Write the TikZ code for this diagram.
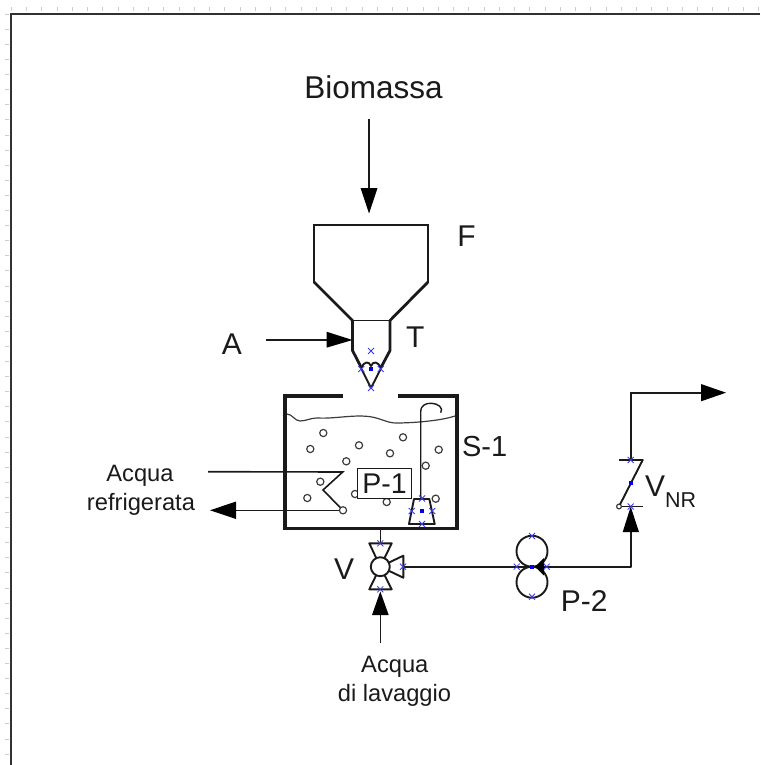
\documentclass[tikz,border=0pt]{standalone}
\usepackage{fontspec}
\setmainfont{Liberation Sans}
\usetikzlibrary{calc}
\definecolor{ink}{HTML}{1A1A1A}
\definecolor{xblue}{HTML}{3A3AF0}
\tikzset{
  thick line/.style={draw=ink,line width=2.8pt,line cap=butt,line join=miter},
  mid line/.style={draw=ink,line width=1.9pt,line join=round},
  thin line/.style={draw=ink,line width=1.6pt},
  solid head/.style={fill=black,draw=none},
  bubble/.style={draw=ink!85,fill=white,line width=1.2pt},
  lbl/.style={text=ink,inner sep=0pt,anchor=base,font=\fontsize{30}{32}\selectfont},
  small lbl/.style={text=ink,inner sep=0pt,anchor=base,font=\fontsize{23.7}{27}\selectfont},
  tick mark/.style={draw=black!20,line width=0.5pt},
}
\newcommand{\xmk}[2]{\draw[xblue,line width=0.8pt] (#1-3,#2-3)--(#1+3,#2+3) (#1-3,#2+3)--(#1+3,#2-3);}
\newcommand{\smk}[2]{\fill[blue!90!black] (#1-2,#2-2) rectangle (#1+2,#2+2);}
\begin{document}
\begin{tikzpicture}[x=1pt,y=-1pt]
\useasboundingbox (0,0) rectangle (760,765);
% ruler ticks
\foreach \i in {0,...,49} {\draw[tick mark] ({11+15.25*\i},7.5)--({11+15.25*\i},11);}
\foreach \i in {0,...,49} {\draw[tick mark] (5,{14+15.1*\i})--(8.5,{14+15.1*\i});}
% frame
\draw[draw=ink!90,line width=2.8pt] (760,14)--(11,14)--(11,765);
% coordinates
\coordinate (bioTop) at (369,119);
\coordinate (aStart) at (266,340);
\coordinate (tLeft) at (352.5,340);
\coordinate (vTop) at (380.3,543.3);
\coordinate (tankBot) at (380.3,529);
\coordinate (vRight) at (403.3,566.7);
\coordinate (vC) at (380.3,566.7);
\coordinate (washEnd) at (380.3,643);
\coordinate (p2C) at (532,566.7);
\coordinate (nrT) at (630.7,460);
\coordinate (corner) at (630.7,566.7);
\coordinate (outCorner) at (630.7,392.7);
\coordinate (outEnd) at (726,392.7);
\coordinate (coilInStart) at (208,471.7);
\coordinate (coilA) at (342.7,472);
\coordinate (coilB) at (323,490);
\coordinate (coilC) at (343,510.3);
\coordinate (coilOut) at (210,510.3);
\coordinate (pumpTop) at (422,498.5);
% Biomassa arrow
\draw[thin line] (bioTop)--(369,190);
\fill[solid head] (369,213.5)--(360.5,188)--(377.5,188)--cycle;
% Hopper
\draw[thick line,line join=round] (314,283)--(314,225);
\draw[thick line,line join=round] (428,283)--(428,225);
\draw[mid line] (312.7,225)--(429.3,225);
\draw[thick line,line join=round] (314,282)--(352.5,320.5)--(352.5,350.5)--(361.5,368);
\draw[thick line,line join=round] (428,282)--(390,320.5)--(390,350.5)--(380.7,368);
\draw[mid line] (352.5,320.5)--(390,320.5);
% Feeder valve
\draw[mid line] (361.5,369)--(371,388)--(380.7,369);
\draw[mid line] (361.5,368) .. controls (364,361) and (369,361) .. (371,366) .. controls (373,361) and (378,361) .. (380.7,368);
% A arrow
\draw[thin line] (aStart)--(328,340);
\fill[solid head] (tLeft)--(326.5,331.7)--(326.5,347.7)--cycle;
% Tank
\draw[thick line,line width=3.2pt] (343,396)--(285,396)--(285,528.7)--(457,528.7)--(457,396)--(398,396);
% Water surface
\draw[draw=ink!85,line width=1.2pt] (287,414) .. controls (292,414) and (295,421) .. (300,421) .. controls (306,421) and (310,418) .. (318,418) .. controls (335,419) and (355,414) .. (372,417) .. controls (382,419) and (388,423) .. (396,423) .. controls (412,423) and (440,421) .. (455,416);
% Bubbles
\foreach \bx/\by in {323.3/433,310.3/449,359/445.3,390/453.3,403/437.3,438.7/449.7,425.7/465.7,346.3/461.3,320.3/481.7,307.3/498,355/494,386.7/502,435.7/498.7}
  {\draw[bubble] (\bx,\by) circle (3.6);}
% Coil
\draw[thin line,line join=miter] (coilInStart)--(coilA)--(coilB)--(coilC);
\draw[thin line] (coilC)--(234,510.3);
\fill[solid head] (coilOut)--(236,501.5)--(236,519)--cycle;
\draw[bubble] (coilC) circle (3.6);
% P-1 box
\node[draw=ink,line width=1.5pt,fill=white,minimum width=54pt,minimum height=30pt,inner sep=0pt,text=ink,font=\fontsize{28.5}{31}\selectfont] (p1) at (384.5,483.3) {P-1};
% Submerged pump
\draw[mid line] (414,499)--(429.3,499)--(434.7,524)--(409,524)--cycle;
\draw[draw=ink,line width=1.4pt] (pumpTop)--(420.7,496.7)--(420.7,412) .. controls (420.7,405) and (426,403) .. (431.7,403.3) .. controls (438,403.5) and (444,408) .. (440.7,412.7);
% Tank to valve
\draw[thin line] (tankBot)--(vTop);
% Three-way valve V
\draw[mid line,fill=white] (vC)--(369.3,543.3)--(391.7,543.3)--cycle;
\draw[mid line,fill=white] (vC)--(369.3,589.3)--(391.7,589.3)--cycle;
\draw[mid line,fill=white] (vC)--(403.3,555.7)--(403.3,577.7)--cycle;
\draw[mid line,fill=white] (vC) circle (9.5);
% Wash water
\draw[thin line] (washEnd)--(380.3,613);
\fill[solid head] (380.3,591.5)--(372,615)--(388.7,615)--cycle;
% Pump P-2
\draw[mid line] (532,551.2) circle (15.5);
\draw[mid line] (532,582.2) circle (15.5);
% V to pump, pump to check valve
\draw[mid line] (vRight)--(p2C);
\draw[mid line] (p2C)--(corner)--(630.7,530);
\fill[solid head] (535,566.7)--(544,558)--(544,575.5)--cycle;
% Check valve
\fill[solid head] (630.7,506.7)--(622.7,532)--(639,532)--cycle;
\draw[mid line] (621.5,506.5)--(643,506.5);
\draw[bubble] (619,506.5) circle (2.4);
\draw[mid line] (620,504.5)--(642.7,460)--(619,460);
% Outlet
\draw[mid line,line join=miter] (nrT)--(outCorner)--(703,392.7);
\fill[solid head] (outEnd)--(701,384)--(701,401.3)--cycle;
% Labels
\node[lbl,font=\fontsize{31.5}{32}\selectfont] (biomassa) at (373.5,98.3) {Biomassa};
\node[lbl] (lF) at (466.5,246.7) {F};
\node[lbl] (lA) at (232,354) {A};
\node[lbl] (lT) at (415.3,347.7) {T};
\node[lbl,font=\fontsize{29}{31}\selectfont] (lS) at (484.7,456) {S-1};
\node[lbl] (lV) at (344,579) {V};
\node[lbl,anchor=base west] (lVNR) at (645,496) {V\raisebox{-11pt}{\fontsize{21.5}{22}\selectfont NR}};
\node[lbl] (lP2) at (584.3,611.7) {P-2};
\node[small lbl] (acqR1) at (140,481) {Acqua};
\node[small lbl] (acqR2) at (141,510.5) {refrigerata};
\node[small lbl] (acqL1) at (394.8,672.7) {Acqua};
\node[small lbl] (acqL2) at (394.5,701.7) {di lavaggio};
% Blue marks
\foreach \mx/\my in {371/351,361.3/369,380.7/369,371/388,422/498.5,411.7/511,432.3/511,422/524,380.3/543.3,380.3/589.3,403/566.7,532/536,532/596.7,516.7/566.7,546.7/566.7,630.7/460,630.7/506.5}
  {\xmk{\mx}{\my}}
\foreach \mx/\my in {371/369,422/511,532/566.7,630.7/483}
  {\smk{\mx}{\my}}
\end{tikzpicture}
\end{document}
